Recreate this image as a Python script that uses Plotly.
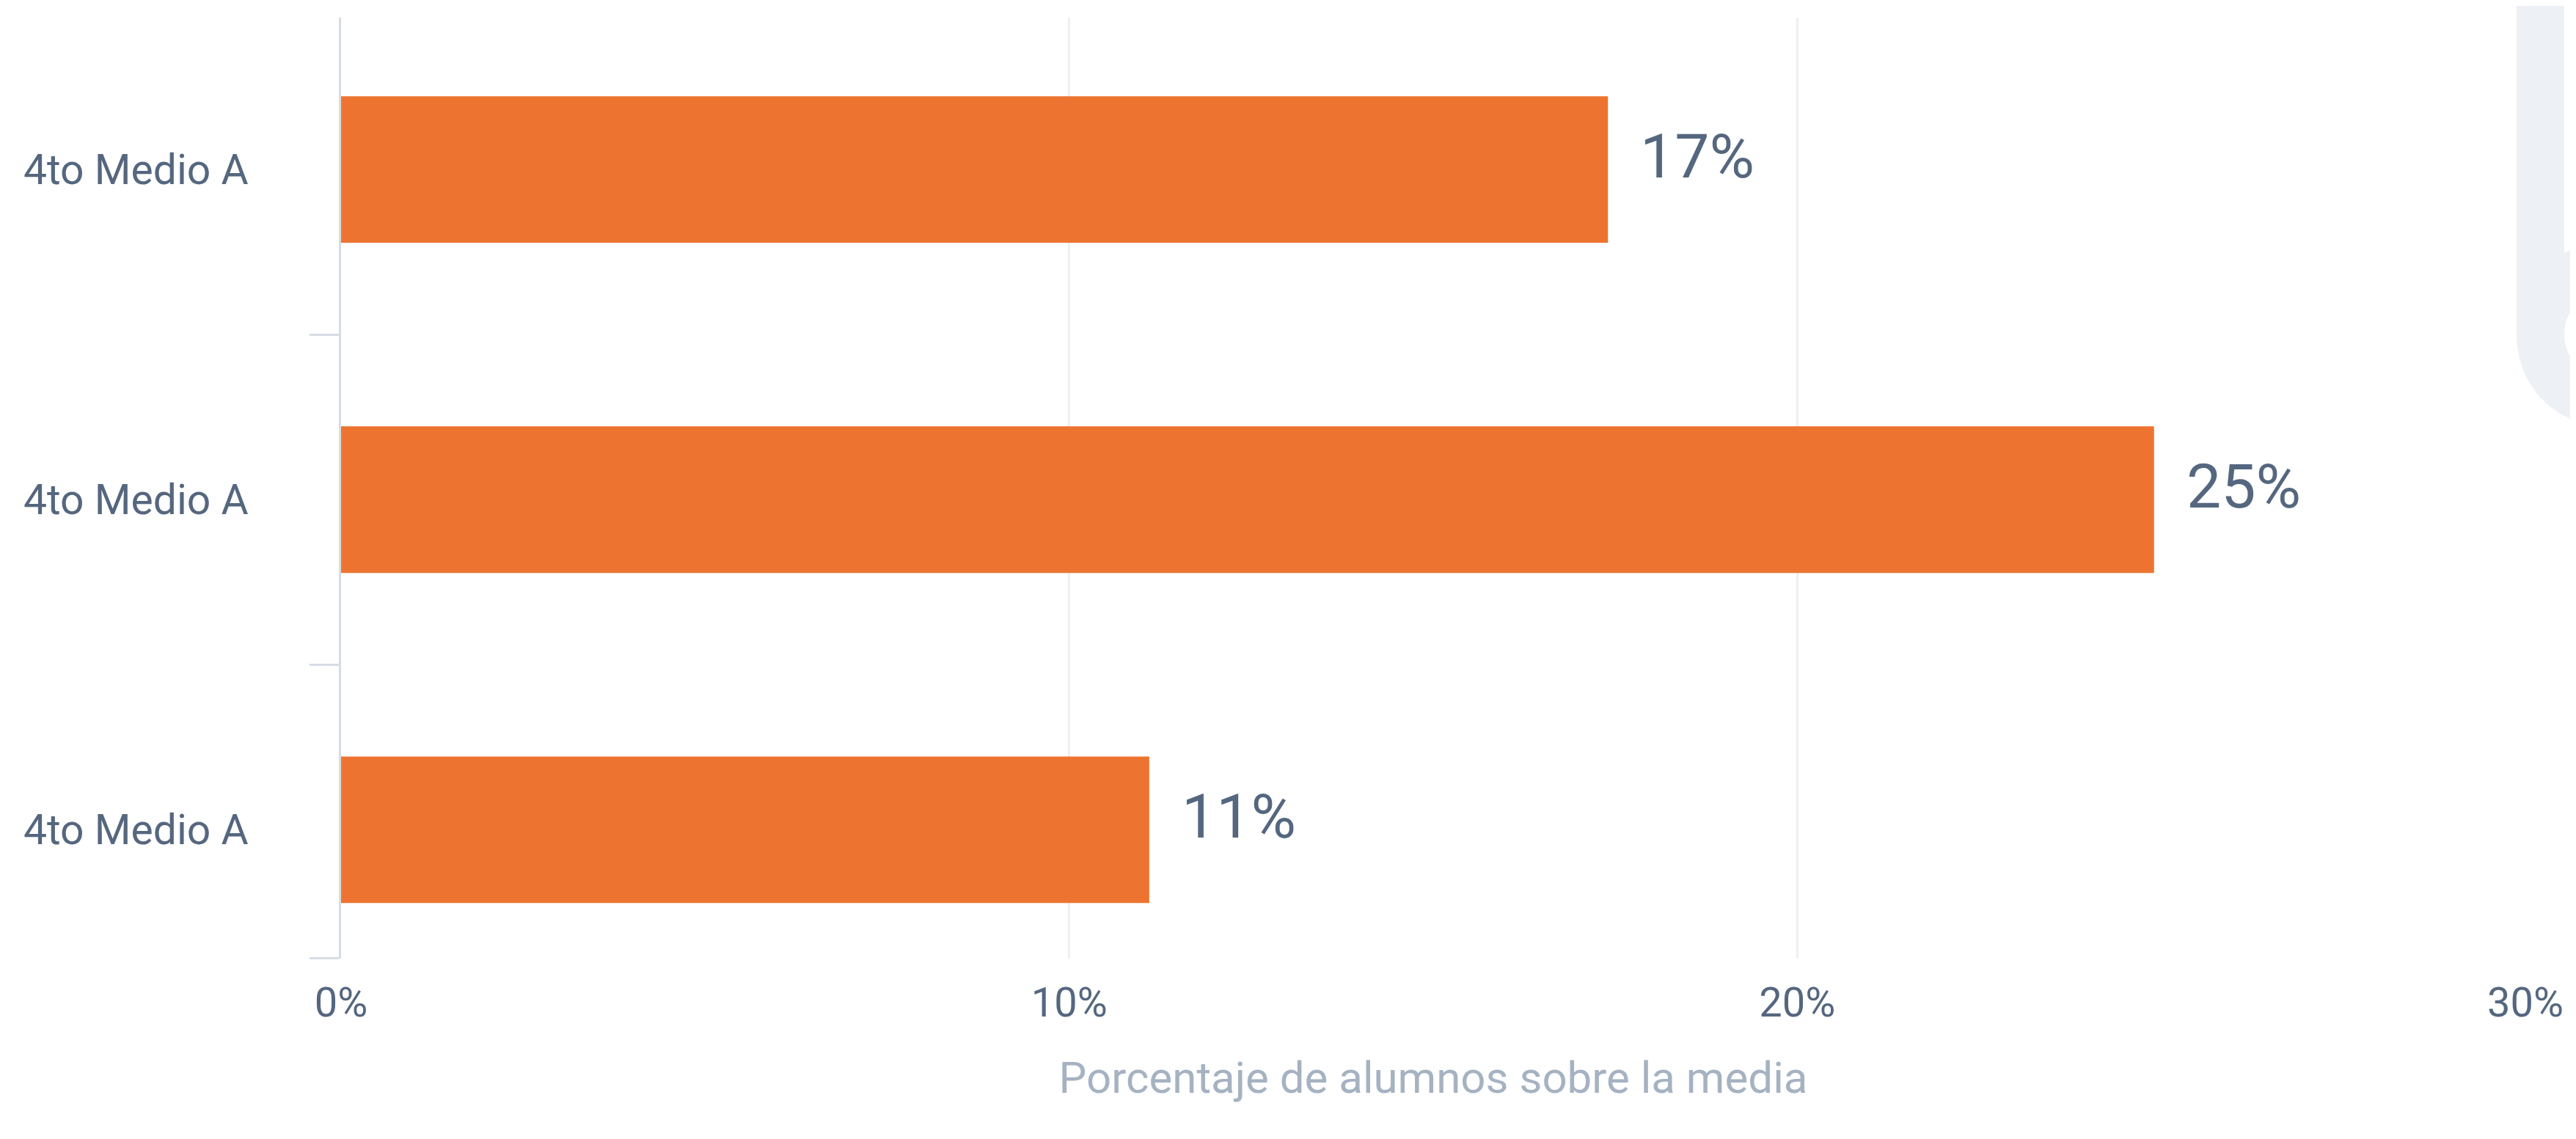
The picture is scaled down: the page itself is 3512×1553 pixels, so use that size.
import plotly.graph_objects as go

# data
CATEGORIES = ["4to Medio A", "4to Medio A", "4to Medio A"]
VALUES = [17.4, 24.9, 11.1]          # % de alumnos sobre la media
X_TICKS = [0, 10, 20, 30]
X_TICK_LABELS = ["0%", "10%", "20%", "30%"]

BAR_COLOR = "#ED7430"
TEXT_COLOR = "#55677f"
TITLE_COLOR = "#a5b2c2"
GRID_COLOR = "#eceff3"
AXIS_COLOR = "#d6dce4"
MARK_COLOR = "#edf0f5"
FONT = "Roboto, 'Noto Sans', sans-serif"

W, H = 3512, 1553
L, R, T, B = 457, 77, 16, 254

pos = list(range(len(CATEGORIES)))
y_range = [2.39, -0.46]  # reversed: first category on top

fig = go.Figure()
fig.add_trace(go.Bar(
    x=VALUES, y=pos, orientation="h",
    width=0.444,
    marker=dict(color=BAR_COLOR, line=dict(width=0)),
    hovertemplate="%{x:.0f}%<extra></extra>",
))

# value labels to the right of each bar
for i, v in enumerate(VALUES):
    fig.add_annotation(
        x=v, y=i, xref="x", yref="y",
        text=f"{v:.0f}%", showarrow=False,
        xanchor="left", yanchor="middle", xshift=42, yshift=18,
        font=dict(family=FONT, size=84, color=TEXT_COLOR),
    )

# faint "b" logo watermark cut by the right edge (paper coords)
fig.add_shape(type="rect", xref="paper", yref="paper",
              x0=0.99597, x1=1.0178, y0=0.66329, y1=1.02,
              fillcolor=MARK_COLOR, line_width=0, layer="above")
fig.add_shape(type="circle", xref="paper", yref="paper",
              x0=0.99597, x1=1.07052, y0=0.56820, y1=0.75838,
              fillcolor=MARK_COLOR, line_width=0, layer="above")
fig.add_shape(type="circle", xref="paper", yref="paper",
              x0=1.0178, x1=1.04936, y0=0.62042, y1=0.70616,
              fillcolor="white", line_width=0, layer="above")

fig.update_layout(
    width=W, height=H,
    margin=dict(l=L, r=R, t=T, b=B, autoexpand=False),
    paper_bgcolor="white", plot_bgcolor="white",
    showlegend=False,
    font=dict(family=FONT, color=TEXT_COLOR),
)
fig.update_xaxes(
    range=[0, 30], automargin=False,
    tickmode="array", tickvals=X_TICKS, ticktext=X_TICK_LABELS,
    tickfont=dict(size=56, color=TEXT_COLOR),
    ticks="", ticklabelstandoff=22,
    showgrid=True, gridcolor=GRID_COLOR, gridwidth=3,
    zeroline=False, showline=False,
    title=dict(text="Porcentaje de alumnos sobre la media",
               font=dict(size=60, color=TITLE_COLOR), standoff=48),
)
fig.update_yaxes(
    range=y_range, automargin=False,
    tickmode="array", tickvals=pos, ticktext=CATEGORIES,
    tickfont=dict(size=57, color=TEXT_COLOR),
    ticks="", ticklabelstandoff=112,
    showgrid=False, zeroline=False,
    showline=True, linecolor=AXIS_COLOR, linewidth=3,
    minor=dict(tickmode="array", tickvals=[0.5, 1.5, 2.389],
               ticks="outside", ticklen=40, tickwidth=3,
               tickcolor=AXIS_COLOR, showgrid=False),
)

fig.write_html("out.html")
